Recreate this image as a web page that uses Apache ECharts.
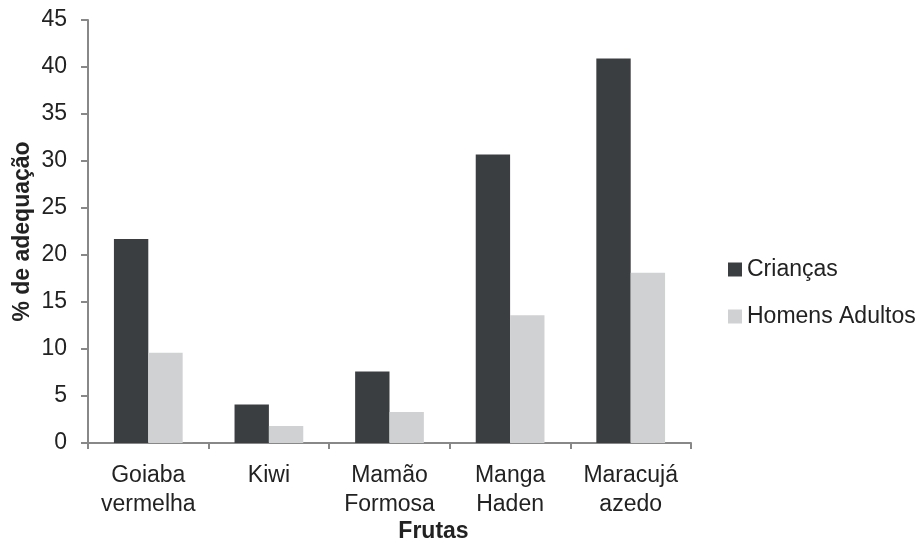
<!DOCTYPE html>
<html lang="pt">

<head>
    <meta charset="UTF-8">
    <title>Frutas</title>
    <style>
        * {
            margin: 0;
            padding: 0;
        }

        #main {
            width: 918px;
            height: 543px;
            background: #fff;
        }
    </style>
</head>

<body>
    <div id="main"></div>
</body>
<script src="https://cdn.jsdelivr.net/npm/echarts@6/dist/echarts.min.js"></script>
<script>
    const frutas = ['Goiaba\nvermelha', 'Kiwi', 'Mamão\nFormosa', 'Manga\nHaden', 'Maracujá\nazedo'];
    const criancas = [21.7, 4.1, 7.6, 30.7, 40.9];
    const homensAdultos = [9.6, 1.8, 3.3, 13.6, 18.1];

    const font = 'Liberation Sans, Arial, sans-serif';

    let option = {
        textStyle: { fontFamily: font },
        animation: false,
        grid: {
            left: 88,
            right: 227,
            top: 20,
            bottom: 100,
            outerBoundsMode: 'none'
        },
        legend: {
            orient: 'vertical',
            left: 728,
            top: 258,
            padding: 0,
            itemWidth: 14,
            itemHeight: 14,
            itemGap: 24,
            itemTextGap: 4,
            icon: 'rect',
            textStyle: {
                fontSize: 23,
                color: '#222',
                fontFamily: font
            },
            data: ['Crianças', 'Homens Adultos']
        },
        xAxis: {
            type: 'category',
            data: frutas,
            name: 'Frutas',
            nameLocation: 'middle',
            nameGap: 77,
            nameMoveOverlap: false,
            nameTextStyle: {
                fontSize: 23,
                fontWeight: 'bold',
                color: '#222',
                fontFamily: font,
                padding: [0, 0, 0, 88]
            },
            axisLine: { lineStyle: { color: '#888', width: 2 } },
            axisTick: { show: true, length: 6, lineStyle: { color: '#888', width: 2 } },
            axisLabel: {
                interval: 0,
                fontSize: 23,
                color: '#222',
                lineHeight: 29,
                margin: 18,
                fontFamily: font
            }
        },
        yAxis: {
            type: 'value',
            min: 0,
            max: 45,
            interval: 5,
            name: '% de adequação',
            nameLocation: 'middle',
            nameGap: 54,
            nameMoveOverlap: false,
            nameTextStyle: {
                fontSize: 23,
                fontWeight: 'bold',
                color: '#222',
                fontFamily: font
            },
            splitLine: { show: false },
            axisLine: { show: true, lineStyle: { color: '#888', width: 2 } },
            axisTick: { show: true, length: 7, lineStyle: { color: '#888', width: 2 } },
            axisLabel: {
                fontSize: 23,
                color: '#222',
                margin: 21,
                fontFamily: font
            }
        },
        series: [
            {
                name: 'Crianças',
                type: 'bar',
                data: criancas,
                barGap: '0%',
                barCategoryGap: '43%',
                itemStyle: { color: '#3b3e41' }
            },
            {
                name: 'Homens Adultos',
                type: 'bar',
                data: homensAdultos,
                itemStyle: { color: '#d0d1d3' }
            }
        ]
    };

    initChart(option);

    function initChart(option) {
        let myCharts = echarts.init(document.getElementById('main'));
        myCharts.clear();
        myCharts.setOption(option);
        window.addEventListener('resize', () => {
            myCharts.resize();
        });
    }
</script>

</html>
